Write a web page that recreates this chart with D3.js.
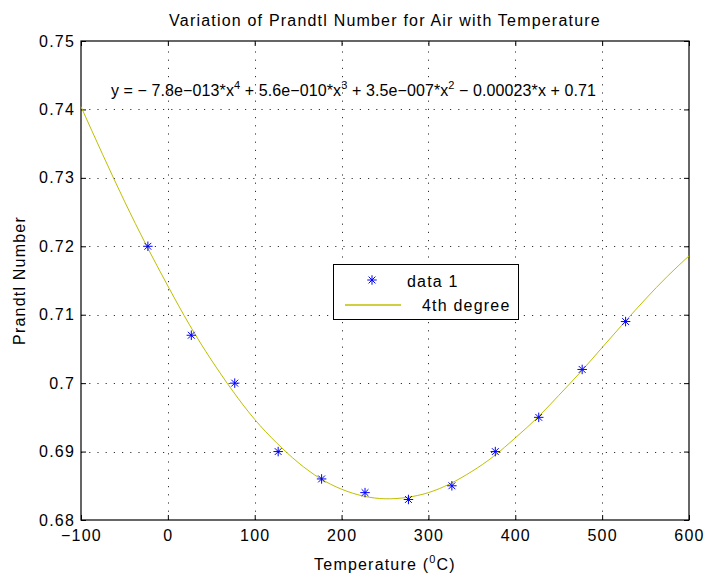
<!DOCTYPE html>
<html>
<head>
	<meta charset="utf-8">
	<title>Prandtl Number of Air</title>
	<style>
		body { margin: 0; background: #fff; }
		text { font-family: "Liberation Sans", Arial, sans-serif; font-size: 16px; letter-spacing: 1.2px; fill: #000; }
	</style>
</head>
<body>
<svg width="707" height="580"></svg>
<script src="https://cdn.jsdelivr.net/npm/d3@7"></script>
<script>
	// measured data (temperature in C)
	const tempC = [-23, 27, 77, 127, 177, 227, 277, 327, 377, 427, 477, 527]
	const prandtl = [0.720, 0.707, 0.700, 0.690, 0.686, 0.684, 0.683, 0.685, 0.690, 0.695, 0.702, 0.709]

	// 4th degree fit
	const fitX = [-100, -75, -50, -25, 0, 25, 50, 75, 100, 125, 150, 175, 200, 225, 250,
		275, 300, 325, 350, 375, 400, 425, 450, 475, 500, 525, 550, 575, 600]
	const fitY = [0.7404, 0.7334, 0.7266, 0.7202, 0.7142, 0.7085, 0.7034, 0.6988, 0.6947, 0.6913,
		0.6884, 0.6861, 0.6845, 0.6835, 0.6831, 0.6833, 0.6840, 0.6853, 0.6871, 0.6893,
		0.6920, 0.6949, 0.6982, 0.7016, 0.7052, 0.7088, 0.7123, 0.7156, 0.7186]

	// ticks
	const xTicks = [-100, 0, 100, 200, 300, 400, 500, 600]
	const yTicks = [0.68, 0.69, 0.70, 0.71, 0.72, 0.73, 0.74, 0.75]

	const pL = 81, pR = 689, pT = 41, pB = 520
	const svg = d3.select("svg")

	let x = d3.scaleLinear().domain([-100, 600]).range([pL, pR])
	let y = d3.scaleLinear().domain([0.68, 0.75]).range([pB, pT])

	let fmtX = d => d < 0 ? "\u2212" + Math.abs(d) : String(d)
	let fmtY = d => String(+d.toFixed(2))

	//网格
	let grid = svg.append("g").attr("stroke", "#333").attr("stroke-width", 1)
		.attr("stroke-dasharray", "1.2,7")
	grid.selectAll(".gx").data(xTicks.slice(1, -1)).enter().append("line")
		.attr("x1", d => Math.round(x(d)) + 0.5).attr("x2", d => Math.round(x(d)) + 0.5)
		.attr("y1", pB).attr("y2", pT)
	grid.selectAll(".gy").data(yTicks.slice(1, -1)).enter().append("line")
		.attr("y1", d => Math.round(y(d)) + 0.5).attr("y2", d => Math.round(y(d)) + 0.5)
		.attr("x1", pL).attr("x2", pR)

	//坐标轴
	let axB = d3.axisBottom(x).tickValues(xTicks).tickFormat(fmtX).tickSize(-5).tickPadding(10)
	let axT = d3.axisTop(x).tickValues(xTicks).tickFormat("").tickSize(-5)
	let axL = d3.axisLeft(y).tickValues(yTicks).tickFormat(fmtY).tickSize(-5).tickPadding(6)
	let axR = d3.axisRight(y).tickValues(yTicks).tickFormat("").tickSize(-5)
	let put = (ax, tr) => {
		let g = svg.append("g").attr("transform", tr).call(ax)
		g.select(".domain").remove()
		g.selectAll("line").attr("stroke", "#000")
		g.selectAll("text").attr("fill", "#000")
		g.attr("font-size", null).attr("font-family", null)
		return g
	}
	put(axB, `translate(0,${pB})`)
	put(axT, `translate(0,${pT})`)
	put(axL, `translate(${pL},0)`)
	put(axR, `translate(${pR},0)`)

	svg.append("rect").attr("x", pL).attr("y", pT)
		.attr("width", pR - pL).attr("height", pB - pT)
		.attr("fill", "none").attr("stroke", "#000").attr("stroke-width", 1.2)

	//拟合曲线
	let line = d3.line().x(d => x(d[0])).y(d => y(d[1])).curve(d3.curveNatural)
	svg.append("path").datum(fitX.map((v, i) => [v, fitY[i]]))
		.attr("fill", "none").attr("stroke", "#bfbf00").attr("stroke-width", 1)
		.attr("d", line)

	//星号
	let star = {
		draw(ctx, size) {
			let r = Math.sqrt(size) / 2, d = r * 0.72
			ctx.moveTo(-r, 0); ctx.lineTo(r, 0)
			ctx.moveTo(0, -r); ctx.lineTo(0, r)
			ctx.moveTo(-d, -d); ctx.lineTo(d, d)
			ctx.moveTo(-d, d); ctx.lineTo(d, -d)
		}
	}
	let sym = d3.symbol(star, 90)
	svg.append("g").selectAll("path").data(tempC).enter().append("path")
		.attr("transform", (d, i) => `translate(${x(d)},${y(prandtl[i])})`)
		.attr("d", sym).attr("fill", "none").attr("stroke", "#0000ff").attr("stroke-width", 1)

	//文字
	svg.append("text").attr("x", (pL + pR) / 2).attr("y", 26).attr("text-anchor", "middle")
		.text("Variation of Prandtl Number for Air with Temperature")

	let xl = svg.append("text").attr("x", (pL + pR) / 2).attr("y", 570).attr("text-anchor", "middle")
	xl.append("tspan").text("Temperature (")
	xl.append("tspan").attr("dy", -7).attr("font-size", "11px").text("0")
	xl.append("tspan").attr("dy", 7).text("C)")

	svg.append("text").attr("transform", `translate(25,${(pT + pB) / 2}) rotate(-90)`)
		.attr("text-anchor", "middle").text("Prandtl Number")

	let eq = svg.append("text").attr("x", x(-65.5)).attr("y", y(0.7419))
		.style("letter-spacing", "0.1px")
	let parts = ["y = \u2212 7.8e\u2212013*x", "4", " + 5.6e\u2212010*x", "3", " + 3.5e\u2212007*x", "2",
		" \u2212 0.00023*x + 0.71"]
	parts.forEach((p, i) => {
		let t = eq.append("tspan").text(p)
		if (i % 2 == 1) t.attr("dy", -7).attr("font-size", "11px")
		else if (i > 0) t.attr("dy", 7)
	})

	//图例
	let lg = svg.append("g")
	lg.append("rect").attr("x", 333.5).attr("y", 264.5).attr("width", 185).attr("height", 55)
		.attr("fill", "#fff").attr("stroke", "#000").attr("stroke-width", 1)
	lg.append("path").attr("transform", "translate(372,280)").attr("d", sym)
		.attr("fill", "none").attr("stroke", "#0000ff")
	lg.append("text").attr("x", 407).attr("y", 287).text("data 1")
	lg.append("line").attr("x1", 345).attr("x2", 401).attr("y1", 305).attr("y2", 305)
		.attr("stroke", "#bfbf00").attr("stroke-width", 1.5)
	lg.append("text").attr("x", 422).attr("y", 311).text("4th degree")
</script>
</body>
</html>
